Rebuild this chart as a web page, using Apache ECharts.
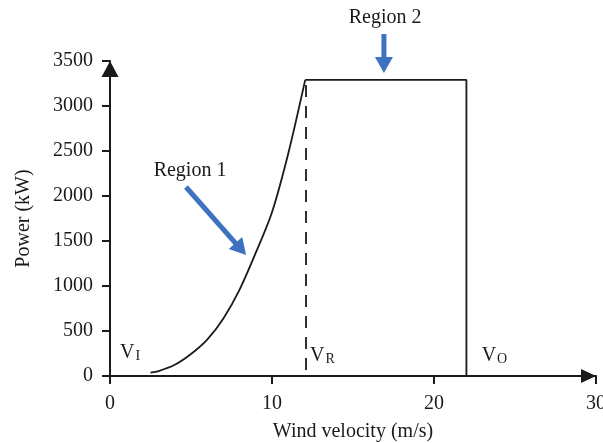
<!DOCTYPE html>
<html>
<head>
<meta charset="utf-8">
<script src="https://cdn.jsdelivr.net/npm/echarts@6/dist/echarts.min.js"></script>
<style>
html, body { margin: 0; padding: 0; background: #fff; }
#main { width: 603px; height: 443px; }
</style>
</head>
<body>
<div id="main"></div>
<script>
// power curve, region 1 (cut-in to rated)
var curveSpeed = [2.5, 3, 4, 5, 6, 7, 8, 9, 10, 11, 12.05];
var curvePower = [37, 55, 125, 245, 405, 640, 960, 1370, 1820, 2470, 3290];
// region 2 (rated to cut-out)
var ratedPower = 3290;
var ratedSpeed = 12.05;
var dashedSpeed = 12.1;
var dashedTop = 3233;
var cutOutSpeed = 22;

var xTicks = [0, 10, 20, 30];
var yTicks = [0, 500, 1000, 1500, 2000, 2500, 3000, 3500];

// annotations, in data units
var regionText = [['Region 1', 4.94, 2278], ['Region 2', 16.98, 3978]];
var regionArrows = [[[4.69, 2100], [8.40, 1344]], [[16.91, 3800], [16.91, 3367]]];
var speedMarks = [['V', 'I', 0.62, 267], ['V', 'R', 12.35, 233], ['V', 'O', 22.94, 233]];

var font = 'Liberation Serif';
var ink = '#1a1a1a';
var blue = '#3d72c0';

var curveData = curveSpeed.map(function (v, i) { return [v, curvePower[i]]; });
var plateauData = [[ratedSpeed, ratedPower], [cutOutSpeed, ratedPower], [cutOutSpeed, 0]];
var dashedData = [[dashedSpeed, dashedTop], [dashedSpeed, 0]];

var myChart = echarts.init(document.getElementById('main'));
var option = {
    animation: false,
    backgroundColor: '#fff',
    grid: { left: 110, right: 7, top: 61, bottom: 67, outerBoundsMode: 'none', containLabel: false },
    xAxis: {
        type: 'value',
        min: xTicks[0],
        max: xTicks[xTicks.length - 1],
        interval: 10,
        name: 'Wind velocity (m/s)',
        nameLocation: 'middle',
        nameGap: 46,
        nameTextStyle: { fontFamily: font, fontSize: 20, color: ink },
        splitLine: { show: false },
        axisLine: {
            onZero: false,
            symbol: ['none', 'triangle'],
            symbolSize: [14, 15],
            symbolOffset: [0, -7.5],
            lineStyle: { color: ink, width: 2 }
        },
        axisTick: { length: 8, lineStyle: { color: ink, width: 2 } },
        axisLabel: {
            margin: 18, fontFamily: font, fontSize: 20, color: ink,
            formatter: function (v) { return String(v); }
        }
    },
    yAxis: {
        type: 'value',
        min: yTicks[0],
        max: yTicks[yTicks.length - 1],
        interval: 500,
        name: 'Power (kW)',
        nameLocation: 'middle',
        nameGap: 76,
        nameTextStyle: { fontFamily: font, fontSize: 20, color: ink },
        splitLine: { show: false },
        axisLine: {
            onZero: false,
            symbol: ['none', 'triangle'],
            symbolSize: [17, 16],
            symbolOffset: [0, -8],
            lineStyle: { color: ink, width: 2 }
        },
        axisTick: { length: 8, lineStyle: { color: ink, width: 2 } },
        axisLabel: {
            margin: 17, fontFamily: font, fontSize: 20, color: ink,
            formatter: function (v) { return String(v); }
        }
    },
    series: [
        {
            type: 'line',
            data: curveData,
            smooth: 0.3,
            showSymbol: false,
            lineStyle: { color: ink, width: 1.8 }
        },
        {
            type: 'line',
            data: plateauData,
            showSymbol: false,
            lineStyle: { color: ink, width: 1.8 }
        },
        {
            type: 'line',
            data: dashedData,
            showSymbol: false,
            lineStyle: { color: ink, width: 1.8, type: [12, 9] }
        }
    ]
};
myChart.setOption(option);

function px(p) { return myChart.convertToPixel({ gridIndex: 0 }, p); }

var graphics = [];
regionText.forEach(function (r) {
    var p = px([r[1], r[2]]);
    graphics.push({
        type: 'text', x: p[0], y: p[1],
        style: { text: r[0], fontFamily: font, fontSize: 20, fill: ink, align: 'center', verticalAlign: 'middle' }
    });
});
regionArrows.forEach(function (a) {
    var p0 = px(a[0]), p1 = px(a[1]);
    var dx = p1[0] - p0[0], dy = p1[1] - p0[1];
    var len = Math.sqrt(dx * dx + dy * dy);
    var ux = dx / len, uy = dy / len;
    var headLen = 16, halfW = 9;
    var bx = p1[0] - ux * headLen, by = p1[1] - uy * headLen;
    graphics.push({
        type: 'line',
        shape: { x1: p0[0], y1: p0[1], x2: bx + ux * 2, y2: by + uy * 2 },
        style: { stroke: blue, lineWidth: 5 }
    });
    graphics.push({
        type: 'polygon',
        shape: { points: [[p1[0], p1[1]], [bx - uy * halfW, by + ux * halfW], [bx + uy * halfW, by - ux * halfW]] },
        style: { fill: blue }
    });
});
speedMarks.forEach(function (m) {
    var p = px([m[2], m[3]]);
    graphics.push({
        type: 'text', x: p[0], y: p[1],
        style: {
            text: '{v|' + m[0] + '}{s|' + m[1] + '}',
            align: 'left', verticalAlign: 'middle',
            rich: {
                v: { fontFamily: font, fontSize: 20, fill: ink, lineHeight: 22, verticalAlign: 'bottom' },
                s: { fontFamily: font, fontSize: 14, fill: ink, lineHeight: 16, verticalAlign: 'bottom', padding: [0, 0, 0, 1] }
            }
        }
    });
});
myChart.setOption({ graphic: graphics });
</script>
</body>
</html>
